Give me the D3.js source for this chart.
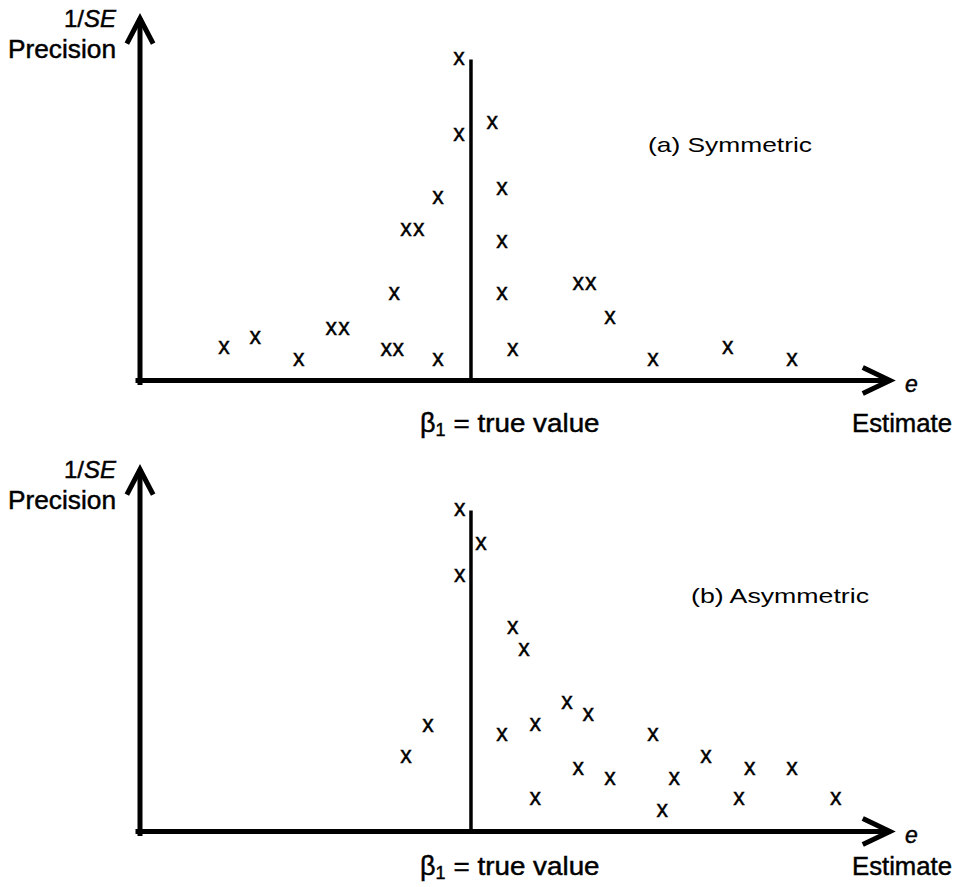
<!DOCTYPE html>
<html>
<head>
<meta charset="utf-8">
<script src="https://cdn.jsdelivr.net/npm/d3@7"></script>
<style>
  html, body { margin: 0; padding: 0; background: #fff; }
  svg { display: block; }
  text { font-family: "Liberation Sans", Arial, Helvetica, sans-serif; fill: #000; }
  text.heavy { stroke: #000; stroke-width: 0.45px; }
</style>
</head>
<body>
<svg id="chart" width="960" height="887"></svg>
<script>
// ---- data (estimate relative to true value β1 = 0; precision = 1/SE, arbitrary units)
const xDomain = [-5, 6.33];
const yDomain = [0, 10];
const trueValue = 0;
const trueLineTop = 8.92;

const panelLabels = ["(a) Symmetric", "(b) Asymmetric"];
const yAxisTitle = "Precision";
const xAxisTitle = "Estimate";
const trueValueLabel = "= true value";

const symEstimate  = [-3.73, -3.26, -2.60, -2.11, -1.92, -1.28, -1.10, -1.16, -0.98, -0.79, -0.50, -0.50, -0.18, -0.18, 0.32, 0.47, 0.47, 0.47, 0.63, 1.62, 1.81, 2.10, 2.75, 3.88, 4.85];
const symPrecision = [ 0.89,  1.17,  0.58,  1.44,  1.44,  0.86,  0.86,  2.39,  4.17,  4.17,  5.06,  0.58,  6.81,  8.92, 7.14, 5.33, 3.86, 2.39, 0.86, 2.67, 2.67, 1.75, 0.58, 0.89, 0.58];

const asymEstimate  = [-0.17, -0.17, -0.65, -0.98, 0.15, 0.63, 0.80, 1.45, 1.77, 0.47, 0.97, 2.75, 1.62, 2.10, 0.97, 3.55, 4.21, 4.85, 3.07, 2.89, 4.05, 5.51];
const asymPrecision = [ 8.92,  7.11,  2.94,  2.06, 8.00, 5.64, 5.03, 3.56, 3.25, 2.67, 2.97, 2.67, 1.75, 1.47, 0.89, 2.06, 1.75, 1.75, 1.47, 0.58, 0.89, 0.89];

// ---- layout
const svg = d3.select("#chart");
const x = d3.scaleLinear().domain(xDomain).range([140, 890]);
const y = d3.scaleLinear().domain(yDomain).range([380.5, 20.5]);
const panelOffset = 451;

const panels = [
  { label: panelLabels[0], est: symEstimate, prec: symPrecision, labelX: 648, labelW: 164, bottomY: 432 },
  { label: panelLabels[1], est: asymEstimate, prec: asymPrecision, labelX: 691, labelW: 178, bottomY: 424 }
];

panels.forEach((p, i) => {
  const g = svg.append("g").attr("transform", `translate(0,${i * panelOffset})`);
  const x0 = x(xDomain[0]);
  const y0 = y(0);
  const yTop = y(yDomain[1]) - 2;
  const xEnd = x(xDomain[1]);
  const aw = 12, al = 23;

  // axes
  const axisStyle = sel => sel.attr("stroke", "#000").attr("stroke-width", 5)
      .attr("fill", "none").attr("stroke-linecap", "square").attr("stroke-linejoin", "miter");
  g.append("line").attr("x1", x0).attr("y1", y0 + 2).attr("x2", x0).attr("y2", yTop + 2).call(axisStyle);
  g.append("path").attr("d", `M${x0 - aw},${yTop + al} L${x0},${yTop} L${x0 + aw},${yTop + al}`).call(axisStyle);
  g.append("line").attr("x1", x0 - 2).attr("y1", y0).attr("x2", xEnd - 2).attr("y2", y0).call(axisStyle);
  g.append("path").attr("d", `M${xEnd - al - 2},${y0 - aw} L${xEnd},${y0} L${xEnd - al - 2},${y0 + aw}`).call(axisStyle);

  // true-value line
  g.append("line").attr("x1", x(trueValue)).attr("x2", x(trueValue))
    .attr("y1", y(trueLineTop)).attr("y2", y0)
    .attr("stroke", "#000").attr("stroke-width", 3.5);

  // y-axis titles
  const t1 = g.append("text").attr("class", "heavy").attr("x", 116).attr("y", 27)
    .attr("text-anchor", "end").attr("font-size", 24);
  t1.append("tspan").text("1/");
  t1.append("tspan").attr("font-style", "italic").text("SE");
  g.append("text").attr("class", "heavy").attr("x", 8).attr("y", 58).attr("font-size", 25)
    .attr("textLength", 108).attr("lengthAdjust", "spacingAndGlyphs").text(yAxisTitle);

  // x-axis titles
  g.append("text").attr("class", "heavy").attr("x", 905).attr("y", 392).attr("font-size", 23)
    .attr("font-style", "italic").text("e");
  g.append("text").attr("class", "heavy").attr("x", 852).attr("y", p.bottomY).attr("font-size", 25)
    .attr("textLength", 100).attr("lengthAdjust", "spacingAndGlyphs").text(xAxisTitle);

  // true value label
  const tv = g.append("text").attr("class", "heavy").attr("x", 420).attr("y", p.bottomY).attr("font-size", 25);
  tv.append("tspan").attr("font-size", 27).text("β");
  tv.append("tspan").attr("font-size", 18).attr("dy", 4).text("1");
  tv.append("tspan").attr("dy", -4).attr("dx", 8).attr("textLength", 146)
    .attr("lengthAdjust", "spacingAndGlyphs").text(trueValueLabel);

  // panel label
  g.append("text").attr("x", p.labelX).attr("y", 152).attr("font-size", 21)
    .attr("fill", "#222").attr("textLength", p.labelW).attr("lengthAdjust", "spacingAndGlyphs")
    .text(p.label);

  // study markers
  const pts = p.est.map((e, k) => ({ e, s: p.prec[k] }));
  g.selectAll("text.mark").data(pts).enter().append("text")
    .attr("class", "mark heavy")
    .attr("x", d => x(d.e))
    .attr("y", d => y(d.s) + 6)
    .attr("text-anchor", "middle")
    .attr("font-size", 23)
    .text("x");
});
</script>
</body>
</html>
